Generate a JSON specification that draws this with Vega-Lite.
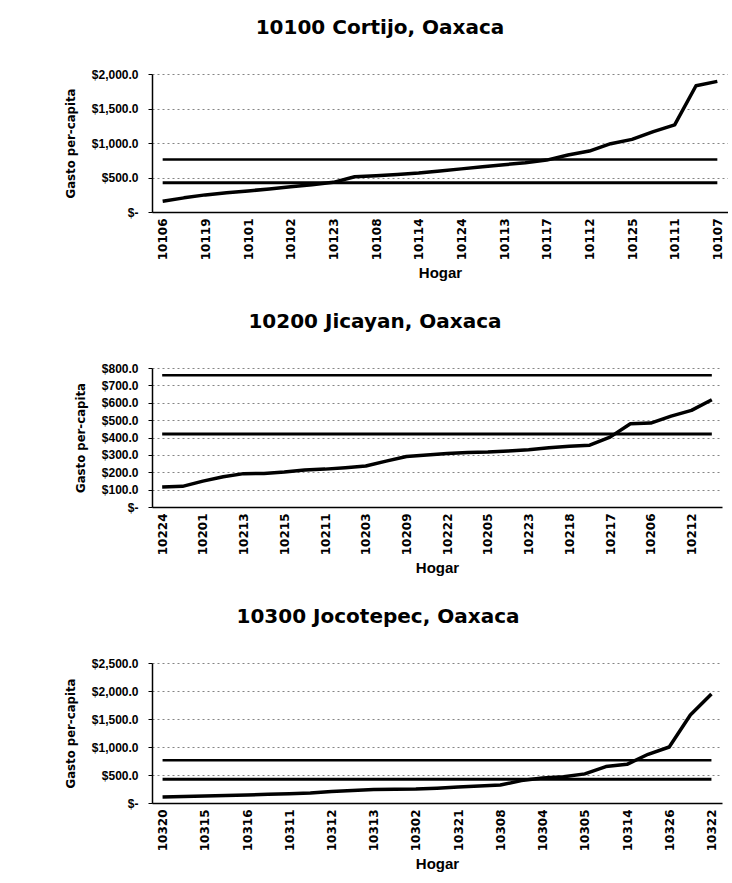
{
  "$schema": "https://vega.github.io/schema/vega-lite/v6.json",
  "background": "white",
  "padding": {"left": 64, "top": 18, "right": 0, "bottom": 0},
  "spacing": 31,
  "datasets": {
    "cortijo": [
      {"hogar": "10106", "gasto": 155, "lp_inf": 425, "lp_sup": 760},
      {"hogar": "10103", "gasto": 205, "lp_inf": 425, "lp_sup": 760},
      {"hogar": "10119", "gasto": 248, "lp_inf": 425, "lp_sup": 760},
      {"hogar": "10104", "gasto": 280, "lp_inf": 425, "lp_sup": 760},
      {"hogar": "10101", "gasto": 305, "lp_inf": 425, "lp_sup": 760},
      {"hogar": "10105", "gasto": 335, "lp_inf": 425, "lp_sup": 760},
      {"hogar": "10102", "gasto": 365, "lp_inf": 425, "lp_sup": 760},
      {"hogar": "10109", "gasto": 395, "lp_inf": 425, "lp_sup": 760},
      {"hogar": "10123", "gasto": 430, "lp_inf": 425, "lp_sup": 760},
      {"hogar": "10110", "gasto": 510, "lp_inf": 425, "lp_sup": 760},
      {"hogar": "10108", "gasto": 525, "lp_inf": 425, "lp_sup": 760},
      {"hogar": "10115", "gasto": 545, "lp_inf": 425, "lp_sup": 760},
      {"hogar": "10114", "gasto": 565, "lp_inf": 425, "lp_sup": 760},
      {"hogar": "10116", "gasto": 595, "lp_inf": 425, "lp_sup": 760},
      {"hogar": "10124", "gasto": 625, "lp_inf": 425, "lp_sup": 760},
      {"hogar": "10118", "gasto": 655, "lp_inf": 425, "lp_sup": 760},
      {"hogar": "10113", "gasto": 685, "lp_inf": 425, "lp_sup": 760},
      {"hogar": "10120", "gasto": 715, "lp_inf": 425, "lp_sup": 760},
      {"hogar": "10117", "gasto": 752, "lp_inf": 425, "lp_sup": 760},
      {"hogar": "10121", "gasto": 825, "lp_inf": 425, "lp_sup": 760},
      {"hogar": "10112", "gasto": 883, "lp_inf": 425, "lp_sup": 760},
      {"hogar": "10122", "gasto": 990, "lp_inf": 425, "lp_sup": 760},
      {"hogar": "10125", "gasto": 1053, "lp_inf": 425, "lp_sup": 760},
      {"hogar": "10126", "gasto": 1165, "lp_inf": 425, "lp_sup": 760},
      {"hogar": "10111", "gasto": 1262, "lp_inf": 425, "lp_sup": 760},
      {"hogar": "10127", "gasto": 1830, "lp_inf": 425, "lp_sup": 760},
      {"hogar": "10107", "gasto": 1893, "lp_inf": 425, "lp_sup": 760}
    ],
    "jicayan": [
      {"hogar": "10224", "gasto": 115, "lp_inf": 420, "lp_sup": 758},
      {"hogar": "10202", "gasto": 119, "lp_inf": 420, "lp_sup": 758},
      {"hogar": "10201", "gasto": 149, "lp_inf": 420, "lp_sup": 758},
      {"hogar": "10204", "gasto": 174, "lp_inf": 420, "lp_sup": 758},
      {"hogar": "10213", "gasto": 192, "lp_inf": 420, "lp_sup": 758},
      {"hogar": "10207", "gasto": 193, "lp_inf": 420, "lp_sup": 758},
      {"hogar": "10215", "gasto": 201, "lp_inf": 420, "lp_sup": 758},
      {"hogar": "10208", "gasto": 213, "lp_inf": 420, "lp_sup": 758},
      {"hogar": "10211", "gasto": 218, "lp_inf": 420, "lp_sup": 758},
      {"hogar": "10210", "gasto": 226, "lp_inf": 420, "lp_sup": 758},
      {"hogar": "10203", "gasto": 236, "lp_inf": 420, "lp_sup": 758},
      {"hogar": "10214", "gasto": 264, "lp_inf": 420, "lp_sup": 758},
      {"hogar": "10209", "gasto": 291, "lp_inf": 420, "lp_sup": 758},
      {"hogar": "10216", "gasto": 299, "lp_inf": 420, "lp_sup": 758},
      {"hogar": "10222", "gasto": 308, "lp_inf": 420, "lp_sup": 758},
      {"hogar": "10219", "gasto": 314, "lp_inf": 420, "lp_sup": 758},
      {"hogar": "10205", "gasto": 316, "lp_inf": 420, "lp_sup": 758},
      {"hogar": "10220", "gasto": 322, "lp_inf": 420, "lp_sup": 758},
      {"hogar": "10223", "gasto": 330, "lp_inf": 420, "lp_sup": 758},
      {"hogar": "10221", "gasto": 341, "lp_inf": 420, "lp_sup": 758},
      {"hogar": "10218", "gasto": 349, "lp_inf": 420, "lp_sup": 758},
      {"hogar": "10225", "gasto": 356, "lp_inf": 420, "lp_sup": 758},
      {"hogar": "10217", "gasto": 402, "lp_inf": 420, "lp_sup": 758},
      {"hogar": "10226", "gasto": 479, "lp_inf": 420, "lp_sup": 758},
      {"hogar": "10206", "gasto": 483, "lp_inf": 420, "lp_sup": 758},
      {"hogar": "10227", "gasto": 523, "lp_inf": 420, "lp_sup": 758},
      {"hogar": "10212", "gasto": 556, "lp_inf": 420, "lp_sup": 758},
      {"hogar": "10228", "gasto": 617, "lp_inf": 420, "lp_sup": 758}
    ],
    "jocotepec": [
      {"hogar": "10320", "gasto": 105, "lp_inf": 425, "lp_sup": 765},
      {"hogar": "10301", "gasto": 115, "lp_inf": 425, "lp_sup": 765},
      {"hogar": "10315", "gasto": 125, "lp_inf": 425, "lp_sup": 765},
      {"hogar": "10303", "gasto": 135, "lp_inf": 425, "lp_sup": 765},
      {"hogar": "10316", "gasto": 145, "lp_inf": 425, "lp_sup": 765},
      {"hogar": "10306", "gasto": 155, "lp_inf": 425, "lp_sup": 765},
      {"hogar": "10311", "gasto": 165, "lp_inf": 425, "lp_sup": 765},
      {"hogar": "10307", "gasto": 180, "lp_inf": 425, "lp_sup": 765},
      {"hogar": "10312", "gasto": 205, "lp_inf": 425, "lp_sup": 765},
      {"hogar": "10309", "gasto": 225, "lp_inf": 425, "lp_sup": 765},
      {"hogar": "10313", "gasto": 240, "lp_inf": 425, "lp_sup": 765},
      {"hogar": "10310", "gasto": 245, "lp_inf": 425, "lp_sup": 765},
      {"hogar": "10302", "gasto": 250, "lp_inf": 425, "lp_sup": 765},
      {"hogar": "10317", "gasto": 265, "lp_inf": 425, "lp_sup": 765},
      {"hogar": "10321", "gasto": 285, "lp_inf": 425, "lp_sup": 765},
      {"hogar": "10318", "gasto": 305, "lp_inf": 425, "lp_sup": 765},
      {"hogar": "10308", "gasto": 320, "lp_inf": 425, "lp_sup": 765},
      {"hogar": "10319", "gasto": 400, "lp_inf": 425, "lp_sup": 765},
      {"hogar": "10304", "gasto": 445, "lp_inf": 425, "lp_sup": 765},
      {"hogar": "10323", "gasto": 470, "lp_inf": 425, "lp_sup": 765},
      {"hogar": "10305", "gasto": 520, "lp_inf": 425, "lp_sup": 765},
      {"hogar": "10324", "gasto": 650, "lp_inf": 425, "lp_sup": 765},
      {"hogar": "10314", "gasto": 690, "lp_inf": 425, "lp_sup": 765},
      {"hogar": "10325", "gasto": 870, "lp_inf": 425, "lp_sup": 765},
      {"hogar": "10326", "gasto": 1000, "lp_inf": 425, "lp_sup": 765},
      {"hogar": "10327", "gasto": 1570, "lp_inf": 425, "lp_sup": 765},
      {"hogar": "10322", "gasto": 1946, "lp_inf": 425, "lp_sup": 765}
    ]
  },
  "config": {
    "font": "Liberation Sans",
    "view": {"stroke": null},
    "title": {"font": "DejaVu Sans", "fontSize": 20, "fontWeight": "bold", "color": "black", "offset": 30},
    "axis": {
      "domainColor": "black",
      "domainWidth": 1.5,
      "tickColor": "black",
      "labelColor": "black",
      "titleColor": "black",
      "labelFontWeight": "bold"
    },
    "axisX": {
      "grid": false,
      "labelAngle": -90,
      "labelFont": "DejaVu Sans",
      "labelFontSize": 12,
      "labelPadding": 6,
      "labelOverlap": false,
      "ticks": false,
      "titleFont": "Liberation Sans",
      "titleFontSize": 15,
      "titleFontWeight": "bold",
      "titlePadding": 6
    },
    "axisY": {
      "grid": true,
      "gridColor": "#666666",
      "gridDash": [2, 3],
      "gridWidth": 0.8,
      "tickSize": 4,
      "labelFont": "Liberation Sans",
      "labelFontSize": 12,
      "labelPadding": 10,
      "labelOverlap": false,
      "titleFont": "DejaVu Sans Condensed, Liberation Sans",
      "titleFontSize": 13,
      "titleFontWeight": "bold",
      "titlePadding": 14
    }
  },
  "vconcat": [
    {
      "title": {"text": "10100 Cortijo, Oaxaca", "dx": -60},
      "width": 576,
      "height": 138,
      "data": {"name": "cortijo"},
      "transform": [{"fold": ["lp_sup", "lp_inf", "gasto"], "as": ["serie", "valor"]}],
      "mark": {"type": "line", "color": "black", "strokeJoin": "round"},
      "encoding": {
        "x": {"field": "hogar", "type": "ordinal", "sort": null, "title": "Hogar", "scale": {"type": "point", "padding": 0.5},
          "axis": {"values": ["10106","10119","10101","10102","10123","10108","10114","10124","10113","10117","10112","10125","10111","10107"]}},
        "y": {"field": "valor", "type": "quantitative", "title": "Gasto per-capita", "scale": {"domain": [0, 2000]},
          "axis": {"values": [0, 500, 1000, 1500, 2000], "labelExpr": "datum.value == 0 ? '$-\u00a0\u00a0\u00a0\u00a0\u00a0\u00a0\u00a0\u00a0' : '$' + format(datum.value, ',.1f')"}},
        "detail": {"field": "serie"},
        "strokeWidth": {"field": "serie", "type": "nominal", "scale": {"domain": ["lp_sup", "lp_inf", "gasto"], "range": [2.5, 3.5, 4.5]}, "legend": null}
      }
    },
    {
      "title": {"text": "10200 Jicayan, Oaxaca", "dx": -62},
      "width": 570,
      "height": 139,
      "data": {"name": "jicayan"},
      "transform": [{"fold": ["lp_sup", "lp_inf", "gasto"], "as": ["serie", "valor"]}],
      "mark": {"type": "line", "color": "black", "strokeJoin": "round"},
      "encoding": {
        "x": {"field": "hogar", "type": "ordinal", "sort": null, "title": "Hogar", "scale": {"type": "point", "padding": 0.5},
          "axis": {"values": ["10224","10201","10213","10215","10211","10203","10209","10222","10205","10223","10218","10217","10206","10212"]}},
        "y": {"field": "valor", "type": "quantitative", "title": "Gasto per-capita", "scale": {"domain": [0, 800]},
          "axis": {"values": [0, 100, 200, 300, 400, 500, 600, 700, 800], "labelExpr": "datum.value == 0 ? '$-\u00a0\u00a0\u00a0\u00a0\u00a0\u00a0' : '$' + format(datum.value, ',.1f')"}},
        "detail": {"field": "serie"},
        "strokeWidth": {"field": "serie", "type": "nominal", "scale": {"domain": ["lp_sup", "lp_inf", "gasto"], "range": [2.5, 3.5, 4.5]}, "legend": null}
      }
    },
    {
      "title": {"text": "10300 Jocotepec, Oaxaca", "dx": -59},
      "width": 570,
      "height": 140,
      "data": {"name": "jocotepec"},
      "transform": [{"fold": ["lp_sup", "lp_inf", "gasto"], "as": ["serie", "valor"]}],
      "mark": {"type": "line", "color": "black", "strokeJoin": "round"},
      "encoding": {
        "x": {"field": "hogar", "type": "ordinal", "sort": null, "title": "Hogar", "scale": {"type": "point", "padding": 0.5},
          "axis": {"values": ["10320","10315","10316","10311","10312","10313","10302","10321","10308","10304","10305","10314","10326","10322"]}},
        "y": {"field": "valor", "type": "quantitative", "title": "Gasto per-capita", "scale": {"domain": [0, 2500]},
          "axis": {"values": [0, 500, 1000, 1500, 2000, 2500], "labelExpr": "datum.value == 0 ? '$-\u00a0\u00a0\u00a0\u00a0\u00a0\u00a0\u00a0\u00a0' : '$' + format(datum.value, ',.1f')"}},
        "detail": {"field": "serie"},
        "strokeWidth": {"field": "serie", "type": "nominal", "scale": {"domain": ["lp_sup", "lp_inf", "gasto"], "range": [2.5, 3.5, 4.5]}, "legend": null}
      }
    }
  ]
}
